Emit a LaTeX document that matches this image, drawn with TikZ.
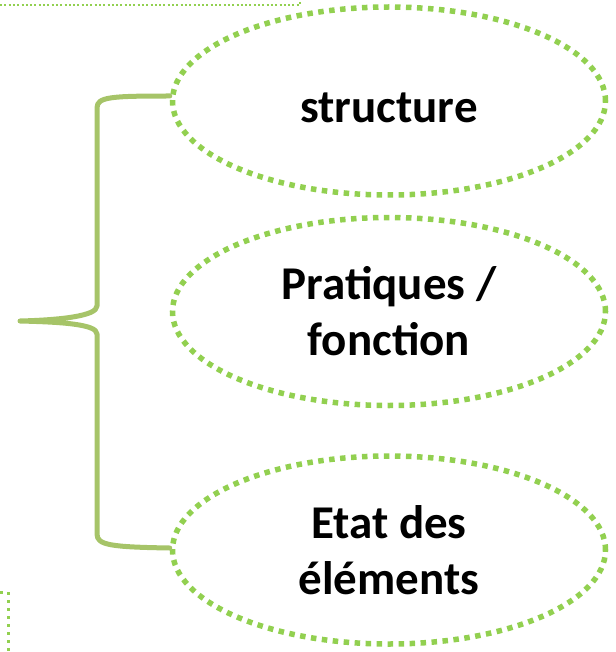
\documentclass[tikz,border=0pt]{standalone}
\usepackage{fontspec}
\setmainfont{Carlito}
\usetikzlibrary{positioning,shapes.geometric}
\definecolor{dotgreen}{RGB}{146,208,80}
\definecolor{bracegreen}{RGB}{166,196,104}
\begin{document}
\begin{tikzpicture}[x=1pt,y=-1pt,
  idea/.style={ellipse, draw=dotgreen, line width=5.5pt, dash pattern=on 5.5pt off 5.5pt,
    minimum width=433pt, minimum height=188pt, inner sep=0pt, align=center,
    font=\bfseries\fontsize{47}{56}\selectfont},
  bracket/.style={draw=bracegreen, line width=5pt, line cap=round, line join=round,
    preaction={draw=black!12, transform canvas={xshift=1.5pt,yshift=-1.5pt}}},
  frame/.style={draw=dotgreen, line width=2pt, dash pattern=on 2pt off 2.3pt},
  framebig/.style={draw=dotgreen, line width=3pt, dash pattern=on 3pt off 5pt}]
  \useasboundingbox (0,0) rectangle (615,652);
  % cut-off frames at the corners
  \draw[frame] (0,5) -- (300,5) -- (300,0);
  \draw[framebig] (0,592) -- (8,592) -- (8,652);
  % the three ellipses
  \node[idea, text height=44pt] (structure) at (389,101) {structure};
  \node[idea, below=17pt of structure] (pratiques) {Pratiques /\\fonction};
  \node[idea, below=45pt of pratiques] (elements) {Etat des\\éléments};
  % brace
  \coordinate (tip) at (20,321);
  \draw[bracket] ([yshift=5pt]structure.west) .. controls (110,96) and (97,97) .. (97,108)
    -- (97,306) .. controls (97,316) and (60,320) .. (tip)
    .. controls (60,322) and (97,324) .. (97,334)
    -- (97,534) .. controls (97,545) and (110,547) .. ([yshift=2pt]elements.west);
\end{tikzpicture}
\end{document}
